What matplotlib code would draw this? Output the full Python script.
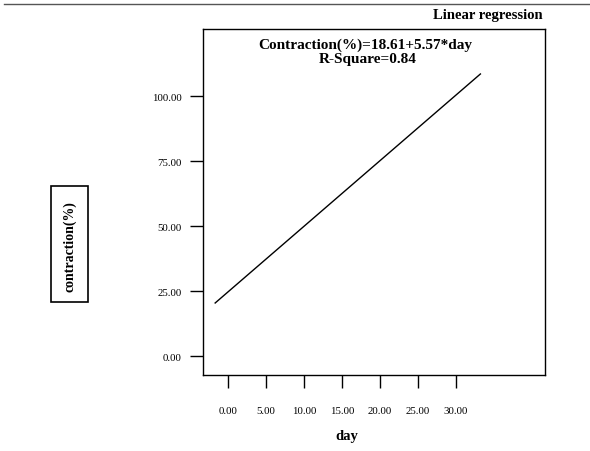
import matplotlib
matplotlib.use("Agg")
import matplotlib.pyplot as plt
from matplotlib.patches import Rectangle
from matplotlib.lines import Line2D

# Data
line_day = [-1.7, 33.2]
line_contraction = [20.4, 108.5]
x_ticks = [0, 5, 10, 15, 20, 25, 30]
x_ticklabels = ["0.00", "5.00", "10.00", "15.00", "20.00", "25.00", "30.00"]
y_ticks = [0, 25, 50, 75, 100]
y_ticklabels = ["0.00", "25.00", "50.00", "75.00", "100.00"]
title = "Linear regression"
equation = "Contraction(%)=18.61+5.57*day"
rsquare = "R-Square=0.84"
xlabel = "day"
ylabel = "contraction(%)"

plt.rcParams['font.family'] = ['Liberation Serif', 'DejaVu Serif']

W, H = 590, 452
fig = plt.figure(figsize=(W / 100, H / 100), dpi=100)
fig.patch.set_facecolor("white")

def fx(px):
    return px / W

def fy(py):
    return 1 - py / H

ax = fig.add_axes([fx(203), fy(376), fx(545) - fx(203), fy(30) - fy(376)])
ax.plot(line_day, line_contraction, color="black", lw=1.0)
ax.set_xlim(-3.3, 41.7)
ax.set_ylim(-7.3, 125.8)
ax.set_xticks(x_ticks)
ax.set_xticklabels(x_ticklabels)
ax.set_yticks(y_ticks)
ax.set_yticklabels(y_ticklabels)
ax.tick_params(axis="both", direction="out", length=9.5, width=1.0, colors="black", labelsize=7.8)
ax.tick_params(axis="x", pad=13)
ax.tick_params(axis="y", pad=6)
for s in ax.spines.values():
    s.set_linewidth(1.0)
    s.set_color("black")

fig.text(fx(365), fy(45), equation, ha="center", va="center",
         fontsize=11, fontweight="bold")
fig.text(fx(368), fy(60), rsquare, ha="center", va="center",
         fontsize=11, fontweight="bold")

# Title
fig.text(fx(543), fy(16), title, ha="right", va="center", fontsize=10.5, fontweight="bold")
# Top rule
fig.add_artist(Line2D([fx(4), fx(590)], [fy(5), fy(5)], color="#555555", lw=1.0))

# X label
fig.text(fx(347), fy(437), xlabel, ha="center", va="center", fontsize=10.5, fontweight="bold")

# Y label in a box
fig.add_artist(Rectangle((fx(51), fy(303)), fx(88) - fx(51), fy(187) - fy(303),
                         transform=fig.transFigure, fill=False, edgecolor="black", lw=1.2))
fig.text(fx(69.5), fy(247), ylabel, ha="center", va="center", rotation=90,
         fontsize=10, fontweight="bold")

fig.savefig("out.png", dpi=100, facecolor="white")
